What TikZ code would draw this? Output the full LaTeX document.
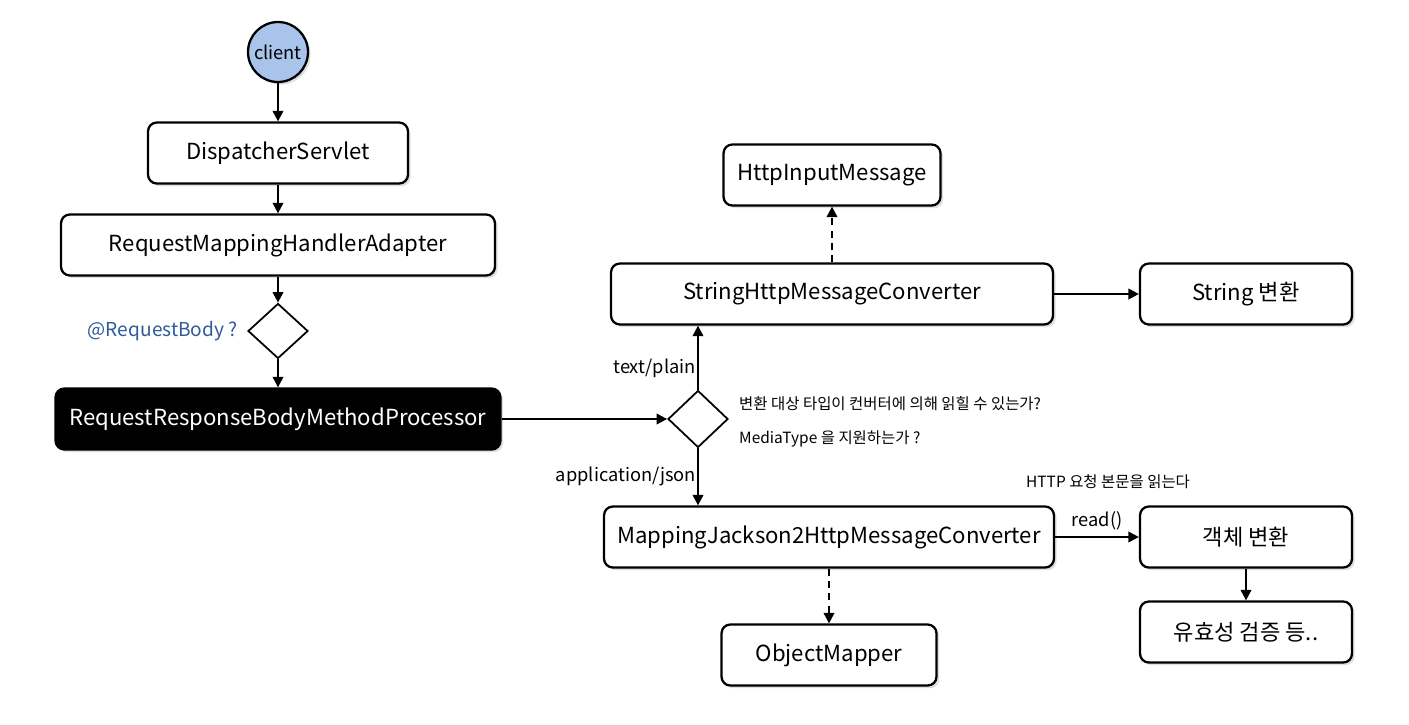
\documentclass[tikz,border=0pt]{standalone}
\usepackage{fontspec}
\setmainfont{Noto Sans CJK KR}
\usetikzlibrary{arrows.meta,shapes.geometric,shadows,positioning}
\definecolor{clientblue}{HTML}{A9C4EB}
\definecolor{notblue}{HTML}{2F5B9C}
\begin{document}
\begin{tikzpicture}[x=0.02cm,y=-0.02cm,
    box/.style={draw,rounded corners=5pt,line width=1.3pt,fill=white,minimum height=1.22cm,
        font=\fontsize{12.6}{15}\selectfont,
        drop shadow={opacity=0.25,shadow xshift=1.5pt,shadow yshift=-1.5pt}},
    darkbox/.style={box,fill=black,text=white},
    choice/.style={draw,diamond,line width=1pt,minimum width=1.2cm,minimum height=1.1cm,inner sep=0pt,fill=white},
    lbl/.style={font=\fontsize{10.4}{13}\selectfont},
    note/.style={font=\fontsize{8.8}{11}\selectfont},
    arr/.style={line width=1.2pt,-{Triangle[length=6pt,width=6pt]}},
    darr/.style={arr,dashed,dash pattern=on 4pt off 3pt}]
\def\CLIENTCOLOR{clientblue}
\useasboundingbox (0,0) rectangle (1409,724);
    \node[circle,draw,line width=1.3pt,fill=\CLIENTCOLOR,minimum size=1.2cm,inner sep=0pt,lbl,
        drop shadow={opacity=0.25,shadow xshift=1.5pt,shadow yshift=-1.5pt}] (client) at (278,52) {client};
    \node[box,minimum width=5.2cm] (dispatcher) at (278,153) {DispatcherServlet};
    \node[box,minimum width=8.68cm] (adapter) at (278,245) {RequestMappingHandlerAdapter};
    \node[choice] (bodycheck) at (278,331) {};
    \node[lbl,font=\fontsize{10.9}{13}\selectfont,text=notblue,anchor=east] (bodylbl) at (244,331) {@RequestBody ?};
    \node[darkbox,minimum width=8.9cm] (processor) at (278,419) {RequestResponseBodyMethodProcessor};
    \node[choice,minimum height=1.14cm] (typecheck) at (698,419) {};
    \node[lbl,anchor=east] (plainlbl) at (702,368) {text/plain};
    \node[lbl,anchor=east] (jsonlbl) at (702,476) {application/json};
    \node[note,anchor=west] (readnote) at (733,404) {변환 대상 타입이 컨버터에 의해 읽힐 수 있는가?};
    \node[note,anchor=west] (medianote) at (733,439) {MediaType 을 지원하는가 ?};
    \node[box,minimum width=8.84cm] (stringconv) at (832,294) {StringHttpMessageConverter};
    \node[box,minimum width=4.34cm] (input) at (832,175) {HttpInputMessage};
    \node[box,minimum width=4.24cm] (stringres) at (1246,294) {String 변환};
    \node[box,minimum width=9.0cm] (jacksonconv) at (829,537) {MappingJackson2HttpMessageConverter};
    \node[box,minimum width=4.3cm] (mapper) at (829,655) {ObjectMapper};
    \node[box,minimum width=4.24cm] (objres) at (1246,537) {객체 변환};
    \node[box,minimum width=4.24cm] (valid) at (1246,632) {유효성 검증 등..};
    \node[note,anchor=west] (httpnote) at (1020,482) {HTTP 요청 본문을 읽는다};
    \draw[arr] (client) -- (dispatcher);
    \draw[arr] (dispatcher) -- (adapter);
    \draw[arr] (adapter) -- (bodycheck);
    \draw[arr] (bodycheck) -- (processor);
    \draw[arr] (processor) -- (typecheck);
    \draw[arr] (typecheck.north) -- (typecheck.north |- stringconv.south);
    \draw[arr] (typecheck.south) -- (typecheck.south |- jacksonconv.north);
    \draw[darr] (stringconv) -- (input);
    \draw[arr] (stringconv) -- (stringres);
    \draw[darr] (jacksonconv) -- (mapper);
    \draw[arr] (jacksonconv) -- node[lbl,above] (readlbl) {read()} (objres);
    \draw[arr] (objres) -- (valid);
\end{tikzpicture}
\end{document}
